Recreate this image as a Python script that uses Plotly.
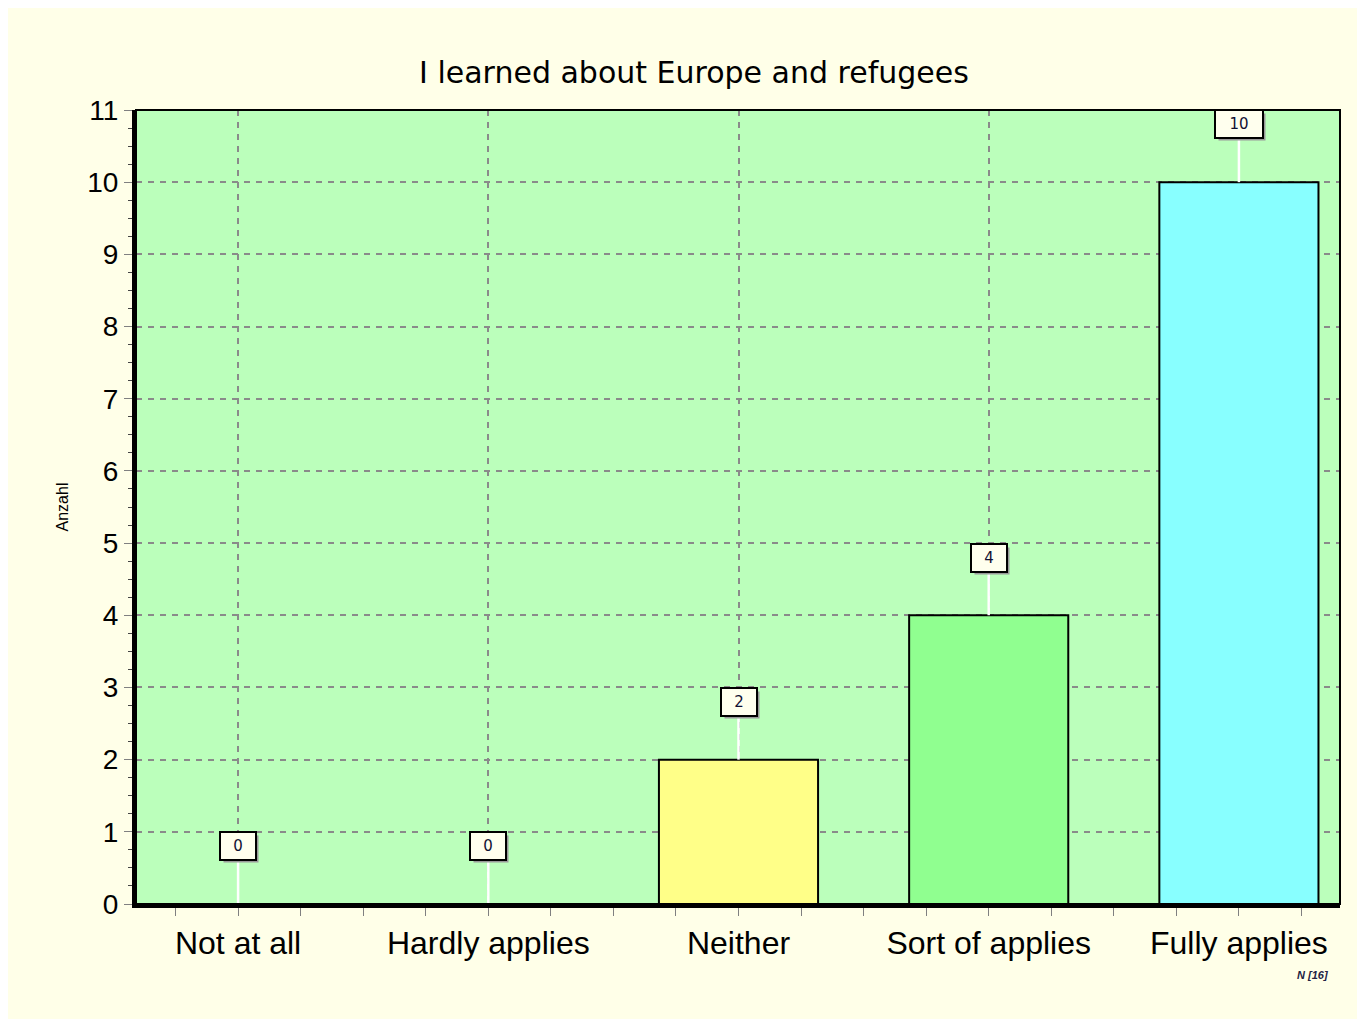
import plotly.graph_objects as go

# chart data
categories = ['Not at all', 'Hardly applies', 'Neither', 'Sort of applies', 'Fully applies']
counts = [0, 0, 2, 4, 10]
bar_colors = ['#FFFF88', '#FFFF88', '#FFFF88', '#90FF90', '#88FFFF']
n_total = 16

xs = list(range(len(categories)))

fig = go.Figure()
fig.add_trace(go.Bar(
    x=xs, y=counts, width=0.636,
    marker=dict(color=bar_colors, line=dict(color='black', width=2)),
    hoverinfo='x+y', showlegend=False,
))

# white leader line from bar top to the value box
for x, v in zip(xs, counts):
    fig.add_shape(type='line', x0=x, x1=x, y0=v, y1=v + 0.62,
                  line=dict(color='white', width=2.5), layer='above')

# value boxes with a small shadow
for x, v in zip(xs, counts):
    w = 44 if v >= 10 else 32
    fig.add_annotation(x=x, y=v + 0.8, text='', showarrow=False,
                       width=w, height=24, bgcolor='#999999',
                       xshift=3, yshift=-3)
    fig.add_annotation(x=x, y=v + 0.8, text=str(v), showarrow=False,
                       width=w, height=24, bgcolor='#FFFFEE',
                       bordercolor='black', borderwidth=2,
                       font=dict(family='DejaVu Sans', size=15, color='#111133'))

# N note bottom right
fig.add_annotation(xref='paper', yref='paper', x=1.0, y=-0.1, xanchor='right',
                   text='<i><b>N [%d]</b></i>' % n_total, showarrow=False,
                   xshift=-10,
                   font=dict(family='Liberation Sans', size=11, color='#222244'))

# thin top/right frame
fig.add_shape(type='rect', xref='paper', yref='paper', x0=0, x1=1, y0=0, y1=1,
              line=dict(color='black', width=2), layer='above')

fig.update_layout(
    width=1349, height=1011,
    paper_bgcolor='#FFFFE8', plot_bgcolor='#BBFFBB',
    margin=dict(l=128, r=17, t=102, b=115),
    title=dict(text='I learned about Europe and refugees', x=0.5085, xanchor='center',
               y=0.936, yanchor='middle',
               font=dict(family='DejaVu Sans', size=30, color='black')),
)
fig.update_xaxes(
    range=[-0.408, 4.404], tickvals=xs, ticktext=categories,
    showgrid=True, gridcolor='#8a8a8a', griddash='6px,6px', gridwidth=1.5,
    showline=True, linecolor='black', linewidth=4,
    ticks='outside', ticklen=8, tickcolor='#808080',
    minor=dict(dtick=0.25, tick0=0, ticks='outside', ticklen=8, tickcolor='#808080', showgrid=False),
    tickfont=dict(family='Liberation Sans', size=32, color='black'),
    zeroline=False,
)
fig.update_yaxes(
    range=[0, 11], dtick=1,
    showgrid=True, gridcolor='#8a8a8a', griddash='6px,6px', gridwidth=1.5,
    showline=True, linecolor='black', linewidth=4,
    ticks='outside', ticklen=8, tickcolor='#808080',
    minor=dict(dtick=0.25, ticks='outside', ticklen=4, tickcolor='#444444', showgrid=False),
    tickfont=dict(family='Liberation Sans', size=28, color='black'),
    title=dict(text='Anzahl', font=dict(family='Liberation Sans', size=16, color='black'), standoff=16),
    zeroline=False,
)

fig.write_html('out.html')
